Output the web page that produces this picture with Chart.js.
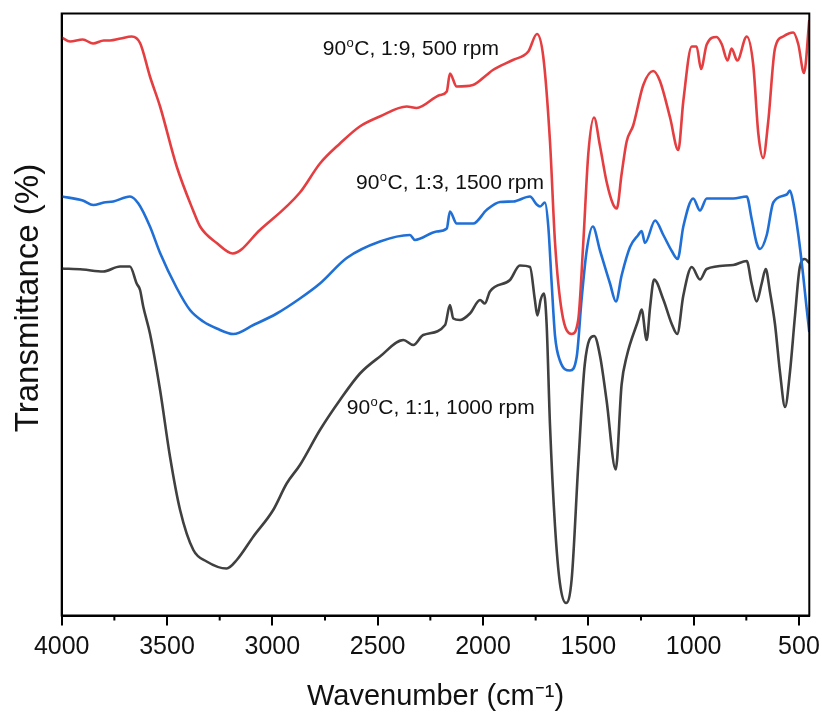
<!DOCTYPE html>
<html>
<head>
<meta charset="utf-8">
<script src="https://cdn.jsdelivr.net/npm/chart.js@4.4.1/dist/chart.umd.min.js"></script>
<style>
  html, body { margin: 0; padding: 0; background: #fff; }
  #wrap { width: 822px; height: 714px; }
</style>
</head>
<body>
<div id="wrap"><canvas id="myChart" width="822" height="714"></canvas></div>
<script>
// FTIR spectra, wavenumber (cm-1) vs transmittance (arbitrary offsets)
const xTicks = [4000, 3500, 3000, 2500, 2000, 1500, 1000, 500];
const xMinor = [3750, 3250, 2750, 2250, 1750, 1250, 750];

const redWn = [4000, 3960, 3900, 3851, 3800, 3771, 3720, 3668, 3628, 3581, 3533, 3454, 3377, 3343, 3264, 3188,
  3059, 2869, 2774, 2679, 2585, 2490, 2362, 2315, 2204, 2172, 2157, 2125, 2048, 1983, 1953, 1858, 1785, 1744,
  1714, 1682, 1658, 1626, 1579, 1548, 1524, 1500, 1473, 1445, 1413, 1382, 1365, 1342, 1318, 1287, 1239, 1192,
  1160, 1112, 1073, 1049, 1009, 986, 965, 938, 891, 867, 839, 820, 793, 748, 717, 693, 670, 646, 614, 575, 527,
  503, 476, 451];
const redT = [57.8, 57.4, 57.6, 57.2, 57.5, 57.5, 57.7, 57.9, 57.25, 53.9, 50.9, 44.9, 40.55, 38.9, 37.25, 36.2,
  38.55, 42.3, 45.2, 47.2, 48.9, 49.9, 50.9, 50.75, 52.05, 52.4, 54.2, 52.9, 53.05, 54.05, 54.55, 55.55, 56.4, 58.15,
  55.9, 47.4, 37.25, 30.4, 28.15, 29.55, 37.25, 46.2, 49.8, 47.0, 43.35, 41.1, 40.7, 44.15, 47.4, 49.0, 53.05, 54.45,
  53.45, 49.8, 46.55, 51.45, 56.9, 56.9, 54.65, 57.1, 57.85, 57.15, 55.5, 56.7, 55.5, 57.9, 55.05, 48.2, 45.75, 49.4,
  56.7, 57.9, 58.3, 57.1, 54.25, 59.55];

const blueWn = [4000, 3900, 3850, 3800, 3755, 3676, 3636, 3581, 3533, 3454, 3391, 3328, 3264, 3185, 3090, 2979,
  2869, 2774, 2647, 2489, 2347, 2323, 2220, 2172, 2157, 2125, 2046, 1983, 1919, 1856, 1777, 1745, 1729, 1706,
  1690, 1674, 1658, 1635, 1587, 1555, 1532, 1508, 1479, 1444, 1397, 1369, 1342, 1302, 1263, 1247, 1231, 1183,
  1144, 1104, 1076, 1049, 1002, 970, 938, 812, 748, 725, 701, 685, 653, 622, 558, 543, 527, 503, 480, 464, 451];
const blueT = [41.9, 41.5, 41.05, 41.3, 41.4, 41.9, 41.2, 38.9, 36.25, 32.75, 30.55, 29.4, 28.7, 28.15, 29.05, 30.2,
  31.7, 33.2, 35.75, 37.4, 38.05, 37.55, 38.4, 38.7, 40.4, 39.2, 39.2, 40.55, 41.35, 41.4, 41.9, 41.1, 40.9, 41.3,
  38.9, 33.2, 27.95, 25.5, 24.5, 25.9, 31.6, 36.45, 38.9, 36.45, 33.2, 31.4, 34.0, 36.85, 38.05, 38.45, 37.25, 39.5,
  38.05, 36.45, 35.65, 38.9, 41.7, 40.5, 41.7, 41.7, 41.9, 39.7, 37.25, 36.65, 38.05, 41.3, 42.1, 42.5, 41.3, 38.05,
  34.0, 30.8, 28.35];

const grayWn = [4000, 3900, 3803, 3723, 3676, 3644, 3628, 3613, 3581, 3533, 3486, 3438, 3375, 3312, 3217, 3169,
  3090, 2996, 2932, 2869, 2774, 2679, 2584, 2489, 2378, 2331, 2284, 2180, 2157, 2141, 2109, 2062, 2014, 1991,
  1967, 1872, 1825, 1777, 1754, 1742, 1726, 1711, 1698, 1682, 1658, 1635, 1606, 1579, 1548, 1517, 1472, 1444,
  1413, 1370, 1342, 1318, 1263, 1247, 1223, 1207, 1188, 1144, 1104, 1078, 1049, 1009, 970, 938, 812, 748, 725,
  701, 677, 658, 638, 614, 590, 566, 543, 519, 496, 472, 451];
const grayT = [34.7, 34.6, 34.4, 34.9, 34.9, 33.2, 32.55, 30.9, 28.2, 22.55, 15.9, 10.55, 6.55, 5.4, 4.7, 5.55,
  7.9, 10.55, 13.2, 15.05, 18.55, 21.55, 24.2, 25.9, 27.55, 27.05, 28.05, 29.05, 31.05, 29.7, 29.55, 30.2, 31.55, 31.2,
  32.4, 33.55, 35.0, 34.85, 31.6, 30.0, 31.6, 32.2, 29.15, 19.05, 8.9, 3.25, 1.25, 3.65, 15.0, 25.1, 27.95, 25.9,
  21.45, 14.6, 23.1, 25.9, 29.55, 30.6, 27.55, 30.8, 33.6, 31.6, 29.15, 28.15, 32.0, 34.85, 33.6, 34.65, 35.05, 35.45, 33.2,
  31.4, 33.2, 34.65, 32.4, 29.15, 24.3, 20.85, 24.3, 29.95, 34.85, 35.65, 35.25];

const seriesNames = ['90C, 1:9, 500 rpm', '90C, 1:3, 1500 rpm', '90C, 1:1, 1000 rpm'];
const seriesColors = ['#e53e41', '#1f6fd6', '#404040'];

// in-plot labels, anchored at (wavenumber, transmittance) of the text baseline start
const notes = [
  { parts: ['90', 'o', 'C, 1:9, 500 rpm'], wn: 2761, t: 56.05 },
  { parts: ['90', 'o', 'C, 1:3, 1500 rpm'], wn: 2603, t: 42.7 },
  { parts: ['90', 'o', 'C, 1:1, 1000 rpm'], wn: 2647, t: 20.2 }
];
const yTitle = 'Transmittance (%)';

const toPts = (xs, ys) => xs.map((x, i) => ({ x: x, y: ys[i] }));
const FONT = "'Liberation Sans', Arial, sans-serif";

const framePlugin = {
  id: 'frame',
  afterDatasetsDraw(chart) {
    const a = chart.chartArea, ctx = chart.ctx, xs = chart.scales.x;
    ctx.save();
    ctx.strokeStyle = '#000';
    ctx.lineWidth = 2;
    ctx.strokeRect(a.left, a.top, a.right - a.left, a.bottom - a.top);
    // minor ticks
    ctx.beginPath();
    xMinor.forEach(v => {
      const px = xs.getPixelForValue(v);
      ctx.moveTo(px, a.bottom);
      ctx.lineTo(px, a.bottom + 5);
    });
    ctx.stroke();
    // in-plot labels
    ctx.fillStyle = '#111';
    ctx.textBaseline = 'alphabetic';
    notes.forEach(n => {
      let x = xs.getPixelForValue(n.wn);
      const y = chart.scales.y.getPixelForValue(n.t);
      ctx.font = '21px ' + FONT;
      ctx.fillText(n.parts[0], x, y);
      x += ctx.measureText(n.parts[0]).width;
      ctx.font = '13px ' + FONT;
      ctx.fillText(n.parts[1], x + 0.5, y - 8);
      x += ctx.measureText(n.parts[1]).width + 1;
      ctx.font = '21px ' + FONT;
      ctx.fillText(n.parts[2], x, y);
    });
    // y axis title
    ctx.translate(29, 298);
    ctx.rotate(-Math.PI / 2);
    ctx.font = '33px ' + FONT;
    ctx.textAlign = 'center';
    ctx.textBaseline = 'middle';
    ctx.fillText(yTitle, 0, 0);
    ctx.restore();
  }
};

const ctx = document.getElementById('myChart').getContext('2d');
const chart = new Chart(ctx, {
  type: 'line',
  data: {
    datasets: [
      { label: seriesNames[0], data: toPts(redWn, redT), borderColor: seriesColors[0] },
      { label: seriesNames[1], data: toPts(blueWn, blueT), borderColor: seriesColors[1] },
      { label: seriesNames[2], data: toPts(grayWn, grayT), borderColor: seriesColors[2] }
    ]
  },
  options: {
    responsive: false,
    animation: false,
    devicePixelRatio: 1,
    layout: { padding: { top: 13.5, right: 12.7, left: 0, bottom: 0 } },
    elements: {
      point: { radius: 0 },
      line: { borderWidth: 2.6, cubicInterpolationMode: 'monotone', fill: false }
    },
    plugins: { legend: { display: false }, tooltip: { enabled: false } },
    scales: {
      x: {
        type: 'linear',
        reverse: true,
        min: 451,
        max: 4000,
        afterBuildTicks: s => { s.ticks = xTicks.map(v => ({ value: v })); },
        afterFit: s => { s.height = 98.5; s.paddingLeft = 0; s.paddingRight = 0; },
        grid: { drawOnChartArea: false, tickLength: 10, color: '#000', lineWidth: 2 },
        border: { color: '#000', width: 2 },
        ticks: { color: '#111', font: { family: FONT, size: 25 }, padding: 7, maxRotation: 0, autoSkip: false,
                 callback: v => String(v) },
        title: { display: true, text: 'Wavenumber (cm\u207B\u00B9)', color: '#111',
                 font: { family: FONT, size: 29 }, padding: { top: 0, bottom: 0 } }
      },
      y: {
        min: 0,
        max: 60.2,
        afterFit: s => { s.width = 61.7; s.paddingTop = 0; s.paddingBottom = 0; },
        grid: { display: false },
        border: { color: '#000', width: 2 },
        ticks: { display: false },
        title: { display: false }
      }
    }
  },
  plugins: [framePlugin]
});
</script>
</body>
</html>
